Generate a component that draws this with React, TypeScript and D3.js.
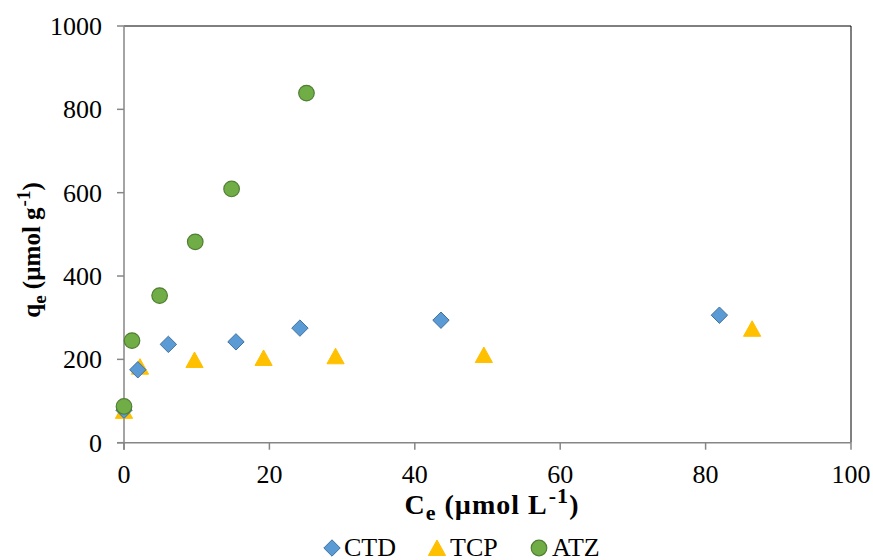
import React from "react";
import * as d3 from "d3";

// Equilibrium concentration Ce (µmol/L) and uptake qe (µmol/g) per compound
const ctdCe = [0.0, 1.9, 6.1, 15.4, 24.2, 43.6, 81.9];
const ctdQe = [78, 175, 236, 242, 275, 294, 306];
const tcpCe = [0.0, 2.2, 9.7, 19.2, 29.1, 49.5, 86.4];
const tcpQe = [74, 180, 196, 201, 205, 208, 271];
const atzCe = [0.0, 1.1, 4.9, 9.8, 14.8, 25.1];
const atzQe = [87, 245, 353, 482, 609, 839];

const xTicks = [0, 20, 40, 60, 80, 100];
const yTicks = [0, 200, 400, 600, 800, 1000];

const W = 873;
const H = 560;
const FONT = "'Liberation Serif', serif";
const TITLE_FONT = "'Times New Roman', 'Liberation Serif', serif";
const txt: React.CSSProperties = { fontFamily: FONT };
const ttl: React.CSSProperties = { fontFamily: TITLE_FONT };

const x = d3.scaleLinear().domain([0, 100]).range([124, 851]);
const y = d3.scaleLinear().domain([0, 1000]).range([442.7, 26]);

// marker shapes, centred on the origin
const diamond = "M0,-8.2L8.2,0L0,8.2L-8.2,0Z";
const triangle = "M0,-9L8.6,6.5L-8.6,6.5Z";

const ctdStyle = { fill: "#5B9BD5", stroke: "#41719C", strokeWidth: 1 };
const tcpStyle = { fill: "#FFC000", stroke: "#FFC000", strokeWidth: 1 };
const atzStyle = { fill: "#70AD47", stroke: "#507E32", strokeWidth: 1.2 };

export default function App() {
  const zip = (a: number[], b: number[]) => a.map((v, i) => [v, b[i]] as [number, number]);
  return (
    <svg width={W} height={H} style={{ position: "absolute", left: 0, top: 0 }}>
      <rect width={W} height={H} fill="#fff" />
      {/* frame */}
      <line x1={x(0)} x2={x(100)} y1={y(1000)} y2={y(1000)} stroke="#000" strokeWidth={1} />
      <line x1={x(100)} x2={x(100)} y1={y(1000)} y2={y(0)} stroke="#000" strokeWidth={1} />
      <line x1={x(0)} x2={x(0)} y1={y(1000)} y2={y(0) + 7} stroke="#868686" strokeWidth={1.5} />
      <line x1={x(0) - 7} x2={x(100)} y1={y(0)} y2={y(0)} stroke="#868686" strokeWidth={1.5} />
      {yTicks.map((t) => (
        <g key={"y" + t}>
          <line x1={x(0) - 7} x2={x(0)} y1={y(t)} y2={y(t)} stroke="#868686" strokeWidth={1.5} />
          <text x={102} y={y(t) + 9} textAnchor="end" fontSize={26} style={txt}>
            {t}
          </text>
        </g>
      ))}
      {xTicks.map((t) => (
        <g key={"x" + t}>
          <line x1={x(t)} x2={x(t)} y1={y(0)} y2={y(0) + 7} stroke="#868686" strokeWidth={1.5} />
          <text x={x(t)} y={483} textAnchor="middle" fontSize={26} style={txt}>
            {t}
          </text>
        </g>
      ))}
      {/* axis titles */}
      <text x={492} y={514} textAnchor="middle" fontSize={28} fontWeight="bold" letterSpacing={1} style={ttl}>
        C<tspan fontSize={22} dy={6}>e</tspan>
        <tspan dy={-6}> (µmol L</tspan>
        <tspan fontSize={22} dx={1} dy={-11}>-1</tspan>
        <tspan dy={11}>)</tspan>
      </text>
      <text
        transform={`translate(40,250) rotate(-90)`}
        textAnchor="middle"
        fontSize={25}
        fontWeight="bold"
        style={ttl}
      >
        q<tspan fontSize={19} dy={6}>e</tspan>
        <tspan dy={-6}> (µmol g</tspan>
        <tspan fontSize={19} dx={1} dy={-10}>-1</tspan>
        <tspan dy={10}>)</tspan>
      </text>
      {/* series */}
      {zip(tcpCe, tcpQe).map(([a, b], i) => (
        <path key={"t" + i} d={triangle} transform={`translate(${x(a)},${y(b)})`} {...tcpStyle} />
      ))}
      {zip(ctdCe, ctdQe).map(([a, b], i) => (
        <path key={"c" + i} d={diamond} transform={`translate(${x(a)},${y(b)})`} {...ctdStyle} />
      ))}
      {zip(atzCe, atzQe).map(([a, b], i) => (
        <circle key={"a" + i} cx={x(a)} cy={y(b)} r={7.8} {...atzStyle} />
      ))}
      {/* legend */}
      <g fontSize={26} style={txt}>
        <path d={diamond} transform="translate(332,548)" {...ctdStyle} />
        <text x={344} y={556}>CTD</text>
        <path d={triangle} transform="translate(437,549)" {...tcpStyle} />
        <text x={450} y={556}>TCP</text>
        <circle cx={539} cy={548} r={7.8} {...atzStyle} />
        <text x={552} y={556}>ATZ</text>
      </g>
    </svg>
  );
}
